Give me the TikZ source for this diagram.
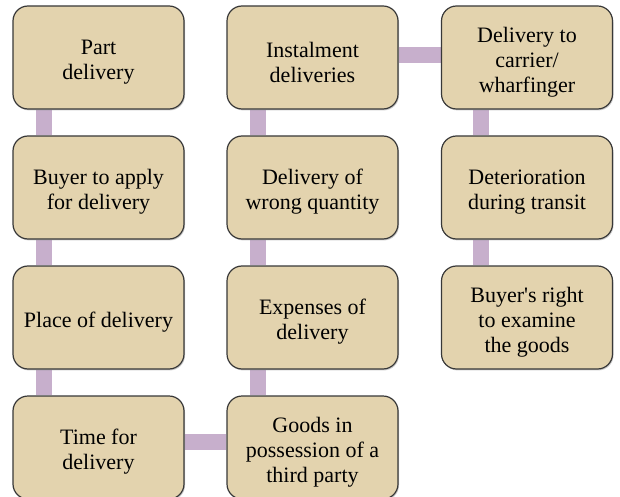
\documentclass[tikz,border=0pt]{standalone}
\usepackage{fontspec}
\setmainfont{Liberation Serif}[Ligatures=TeXOff]
\usetikzlibrary{backgrounds,shadows}
\definecolor{boxtan}{HTML}{E3D3AE}
\definecolor{linkmauve}{HTML}{C7AFCC}
\tikzset{
  topictext/.style={align=center, inner sep=0pt, yshift=-2.3pt,
    font=\fontsize{11}{12.5}\selectfont},
  % the text goes in as a label so that it can sit a little low
  topic/.style={draw=black!78, line width=0.6pt, fill=boxtan,
    rounded corners=7.5pt, minimum width=85.5pt, minimum height=51.5pt,
    drop shadow={shadow xshift=0.5pt, shadow yshift=-0.7pt, opacity=0.4},
    label={[topictext]center:{#1}}},
  link/.style={linkmauve, line width=8pt}
}
\begin{document}
\begin{tikzpicture}[x=0.5pt,y=-0.5pt]
  \useasboundingbox (0,0) rectangle (620,497);
  % first column
  \node[topic={Part\\delivery}]           (part)  at (98.5,57.5)  {};
  \node[topic={Buyer to apply\\for delivery}] (apply) at (98.5,187.5) {};
  \node[topic={Place of delivery}]        (place) at (98.5,317.5) {};
  \node[topic={Time for\\delivery}]       (time)  at (98.5,447.5) {};
  % second column
  \node[topic={Instalment\\deliveries}]   (instal) at (312.5,57.5)  {};
  \node[topic={Delivery of\\wrong quantity}] (wrong) at (312.5,187.5) {};
  \node[topic={Expenses of\\delivery}]    (costs)  at (312.5,317.5) {};
  \node[topic={Goods in\\possession of a\\third party}] (goods) at (312.5,447.5) {};
  % third column
  \node[topic={Delivery to\\carrier/\\wharfinger}]   (carrier) at (527,57.5)  {};
  \node[topic={Deterioration\\during transit}]       (transit) at (527,187.5) {};
  \node[topic={Buyer's right\\to examine\\the goods}] (examine) at (527,317.5) {};

  \begin{scope}[on background layer]
    \foreach \a/\b in {part/apply, apply/place, place/time,
                       instal/wrong, wrong/costs, costs/goods}
      \draw[link] ([xshift=16pt]\a.south west) -- ([xshift=16pt]\b.north west);
    \foreach \a/\b in {carrier/transit, transit/examine}
      \draw[link] ([xshift=20pt]\a.south west) -- ([xshift=20pt]\b.north west);
    \draw[link] ([yshift=3pt]time.east) -- ([yshift=3pt]goods.west);
    \draw[link] ([yshift=1pt]instal.east) -- ([yshift=1pt]carrier.west);
  \end{scope}
\end{tikzpicture}
\end{document}
